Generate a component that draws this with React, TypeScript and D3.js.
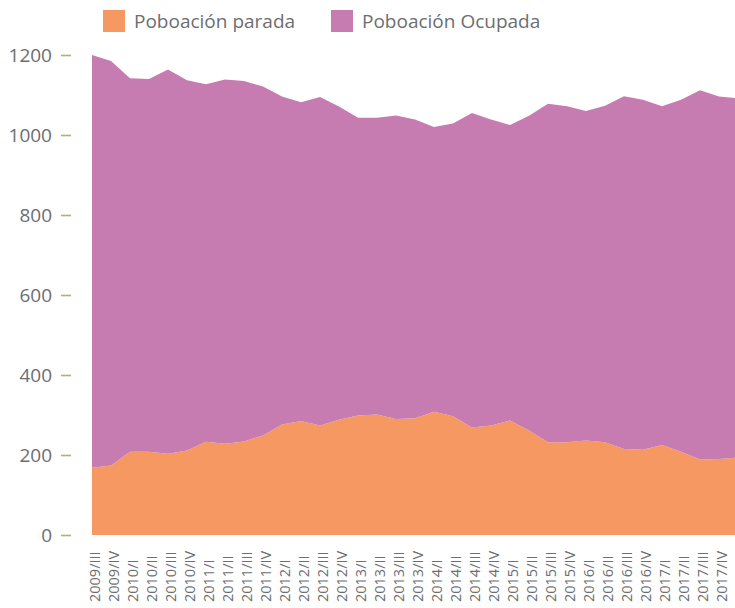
import React, { useEffect, useRef } from 'react';
import * as d3 from 'd3';

// quarters shown on the x axis
const quarters = [
  '2009/III', '2009/IV',
  '2010/I', '2010/II', '2010/III', '2010/IV',
  '2011/I', '2011/II', '2011/III', '2011/IV',
  '2012/I', '2012/II', '2012/III', '2012/IV',
  '2013/I', '2013/II', '2013/III', '2013/IV',
  '2014/I', '2014/II', '2014/III', '2014/IV',
  '2015/I', '2015/II', '2015/III', '2015/IV',
  '2016/I', '2016/II', '2016/III', '2016/IV',
  '2017/I', '2017/II', '2017/III', '2017/IV',
  '2018/I'
];

// thousands of people
const parada = [
  168, 174, 208, 208, 203, 211, 233, 228, 234, 249,
  276, 285, 274, 288, 299, 301, 290, 292, 308, 297,
  269, 274, 286, 261, 232, 232, 236, 232, 215, 213,
  225, 208, 189, 190, 194
];

const ocupada = [
  1032, 1011, 934, 932, 961, 926, 894, 911, 901, 872,
  820, 797, 821, 783, 744, 742, 759, 747, 712, 732,
  786, 765, 739, 787, 846, 840, 824, 841, 882, 875,
  847, 880, 923, 906, 898
];

const yTicks = [0, 200, 400, 600, 800, 1000, 1200];

const seriesKeys = ['parada', 'ocupada'];
const seriesNames = ['Poboación parada', 'Poboación Ocupada'];
const seriesColors = ['#F69862', '#C67BB1'];

const FONT = "'Open Sans', sans-serif";

function Chart() {
  const ref = useRef<SVGSVGElement>(null);

  useEffect(() => {
    const svg = d3.select(ref.current);
    svg.selectAll('*').remove();

    const rows = quarters.map((q, i) => ({ q, parada: parada[i], ocupada: ocupada[i] }));

    // the last quarter sits just past the right edge, as in the original
    const x = d3.scalePoint().domain(quarters).range([92, 738]);
    const y = d3.scaleLinear().domain([0, 1200]).range([535, 55]);

    const stacked = d3.stack<any>().keys(seriesKeys)(rows);

    const area = d3.area<any>()
      .x((d) => x(d.data.q) as number)
      .y0((d) => y(d[0]))
      .y1((d) => y(d[1]));

    svg.append('g')
      .selectAll('path')
      .data(stacked)
      .enter().append('path')
      .attr('d', (d: any) => area(d))
      .attr('fill', (d, i) => seriesColors[i]);

    // y axis, ticks only
    const yAxis = svg.append('g')
      .attr('transform', 'translate(71,0)')
      .call(d3.axisLeft(y).tickValues(yTicks).tickSize(10).tickPadding(9).tickFormat(d3.format('d')));
    yAxis.select('.domain').remove();
    yAxis.selectAll('line').attr('stroke', '#B5AE6E').attr('stroke-width', 1.6);
    yAxis.selectAll('text')
      .attr('fill', '#6D6E71')
      .style('font-family', FONT)
      .style('font-size', '19px');

    // x labels, rotated and bottom aligned
    svg.append('g')
      .selectAll('text')
      .data(quarters)
      .enter().append('text')
      .attr('transform', (d) => 'translate(' + ((x(d) as number) + 3) + ',602) rotate(-90)')
      .attr('dy', '0.35em')
      .attr('text-anchor', 'start')
      .attr('fill', '#6D6E71')
      .style('font-family', FONT)
      .style('font-size', '14.5px')
      .text((d) => d);

    // legend
    const legendX = [103, 331];
    const legend = svg.append('g')
      .selectAll('g')
      .data(seriesNames)
      .enter().append('g')
      .attr('transform', (d, i) => 'translate(' + legendX[i] + ',10)');
    legend.append('rect')
      .attr('width', 22)
      .attr('height', 22)
      .attr('fill', (d, i) => seriesColors[i]);
    legend.append('text')
      .attr('x', 31)
      .attr('y', 18)
      .attr('fill', '#6D6E71')
      .style('font-family', FONT)
      .style('font-size', '19px')
      .text((d) => d);
  }, []);

  return <svg ref={ref} width={735} height={608} style={{ display: 'block' }}></svg>;
}

export default function App() {
  return (
    <div style={{ position: 'absolute', left: 0, top: 0, width: 735, height: 608, overflow: 'hidden', background: '#fff' }}>
      <Chart />
    </div>
  );
}
